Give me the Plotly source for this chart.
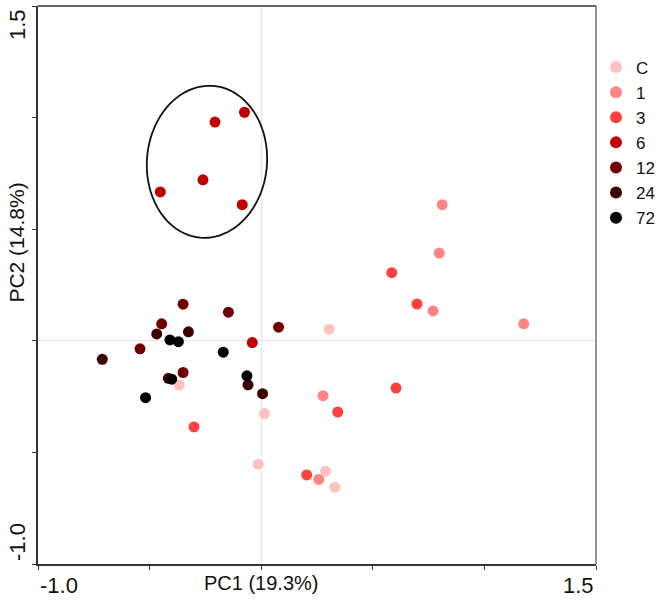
import numpy as np
import plotly.graph_objects as go

# ---- data ----
groups = ["C", "1", "3", "6", "12", "24", "72"]
colors = ["#FFC0C0", "#FF8585", "#FF4040", "#C00000", "#700000", "#3C0000", "#000000"]

pc1_C = [0.305, -0.368, 0.015, -0.013, 0.288, 0.330]
pc2_C = [0.052, -0.198, -0.326, -0.553, -0.585, -0.656]

pc1_1 = [0.811, 0.798, 0.770, 1.176, 0.277, 0.258]
pc2_1 = [0.610, 0.393, 0.134, 0.076, -0.246, -0.621]

pc1_3 = [0.585, 0.698, 0.604, 0.343, 0.204, -0.301]
pc2_3 = [0.305, 0.165, -0.212, -0.319, -0.601, -0.386]

pc1_6 = [-0.207, -0.075, -0.261, -0.452, -0.085, -0.040]
pc2_6 = [0.980, 1.024, 0.721, 0.667, 0.610, -0.008]

pc1_12 = [-0.350, -0.147, 0.078, -0.446, -0.543, -0.350]
pc2_12 = [0.164, 0.128, 0.061, 0.076, -0.036, -0.142]

pc1_24 = [-0.468, -0.326, -0.712, -0.416, -0.059, 0.006]
pc2_24 = [0.031, 0.040, -0.083, -0.168, -0.197, -0.237]

pc1_72 = [-0.409, -0.371, -0.170, -0.518, -0.064, -0.401]
pc2_72 = [0.004, -0.004, -0.051, -0.255, -0.157, -0.172]

xs = [pc1_C, pc1_1, pc1_3, pc1_6, pc1_12, pc1_24, pc1_72]
ys = [pc2_C, pc2_1, pc2_3, pc2_6, pc2_12, pc2_24, pc2_72]

x_tick_vals = [-1.0, -0.5, 0.0, 0.5, 1.0, 1.5]
x_tick_labels = ["-1.0", "", "", "", "", "1.5"]
y_tick_vals = [-1.0, -0.5, 0.0, 0.5, 1.0, 1.5]
y_tick_labels = ["-1.0", "", "", "", "", "1.5"]

x_title = "PC1 (19.3%)"
y_title = "PC2 (14.8%)"

# ellipse around group 6 (data units)
ell_cx, ell_cy, ell_rx, ell_ry, ell_tilt_deg = -0.243, 0.802, 0.269, 0.341, -5.0

FONT = "Liberation Sans, Arial, sans-serif"

fig = go.Figure()
for g, c, x, y in zip(groups, colors, xs, ys):
    fig.add_trace(go.Scatter(
        x=x, y=y, mode="markers", name=g,
        marker=dict(color=c, size=11, line=dict(width=0)),
    ))

# ellipse path
t = np.linspace(0, 2 * np.pi, 121)
a = np.deg2rad(ell_tilt_deg)
ex = ell_cx + ell_rx * np.cos(t) * np.cos(a) - ell_ry * np.sin(t) * np.sin(a)
ey = ell_cy + ell_rx * np.cos(t) * np.sin(a) + ell_ry * np.sin(t) * np.cos(a)
path = "M " + " L ".join(f"{px:.4f},{py:.4f}" for px, py in zip(ex, ey)) + " Z"
fig.add_shape(type="path", path=path, xref="x", yref="y",
              line=dict(color="#111111", width=1.8))

# right border (grey)
fig.add_shape(type="line", xref="paper", yref="paper", x0=1, x1=1, y0=0, y1=1,
              line=dict(color="#707070", width=1.5))
# top border
fig.add_shape(type="line", xref="paper", yref="paper", x0=0, x1=1, y0=1, y1=1,
              line=dict(color="#333333", width=1.5))

# tick labels as annotations
for v, lab in zip(x_tick_vals, x_tick_labels):
    if not lab:
        continue
    xa = "left" if v == x_tick_vals[0] else "right"
    fig.add_annotation(x=v, xref="x", y=0, yref="paper", text=lab, showarrow=False,
                       xanchor=xa, yanchor="middle", yshift=-21,
                       font=dict(family=FONT, size=22, color="#111111"))
for v, lab in zip(y_tick_vals, y_tick_labels):
    if not lab:
        continue
    ysh = -19 if v == y_tick_vals[-1] else 22
    fig.add_annotation(x=0, xref="paper", y=v, yref="y", text=lab, showarrow=False,
                       textangle=-90, xanchor="center", yanchor="middle",
                       xshift=-21, yshift=ysh,
                       font=dict(family=FONT, size=22, color="#111111"))

fig.add_annotation(x=0.0, xref="x", y=0, yref="paper", text=x_title, showarrow=False,
                   xanchor="center", yanchor="middle", yshift=-19,
                   font=dict(family=FONT, size=20, color="#111111"))
fig.add_annotation(x=0, xref="paper", y=0.44, yref="y", text=y_title, showarrow=False,
                   textangle=-90, xanchor="center", yanchor="middle", xshift=-21,
                   font=dict(family=FONT, size=21, color="#111111"))

fig.update_xaxes(range=[-1.0, 1.5], tickvals=x_tick_vals, showticklabels=False,
                 ticks="outside", ticklen=4, tickcolor="#333333", tickwidth=1,
                 showline=True, linecolor="#333333", linewidth=1.5,
                 showgrid=False, zeroline=True, zerolinecolor="#E6E6E6", zerolinewidth=1)
fig.update_yaxes(range=[-1.0, 1.5], tickvals=y_tick_vals, showticklabels=False,
                 ticks="outside", ticklen=4, tickcolor="#333333", tickwidth=1,
                 showline=True, linecolor="#333333", linewidth=1.5,
                 showgrid=False, zeroline=True, zerolinecolor="#E6E6E6", zerolinewidth=1)

fig.update_layout(
    width=658, height=605,
    margin=dict(l=38, r=62, t=6, b=41, autoexpand=False),
    plot_bgcolor="white", paper_bgcolor="white",
    font=dict(family=FONT, size=17, color="#111111"),
    showlegend=True,
    legend=dict(x=1.0, xanchor="left", y=0.922, yanchor="top",
                font=dict(family=FONT, size=17, color="#111111"),
                bgcolor="rgba(0,0,0,0)", itemsizing="constant",
                tracegroupgap=0),
)

fig.write_html("out.html", config={"displayModeBar": False},
               post_script="document.body.style.margin='0';")
